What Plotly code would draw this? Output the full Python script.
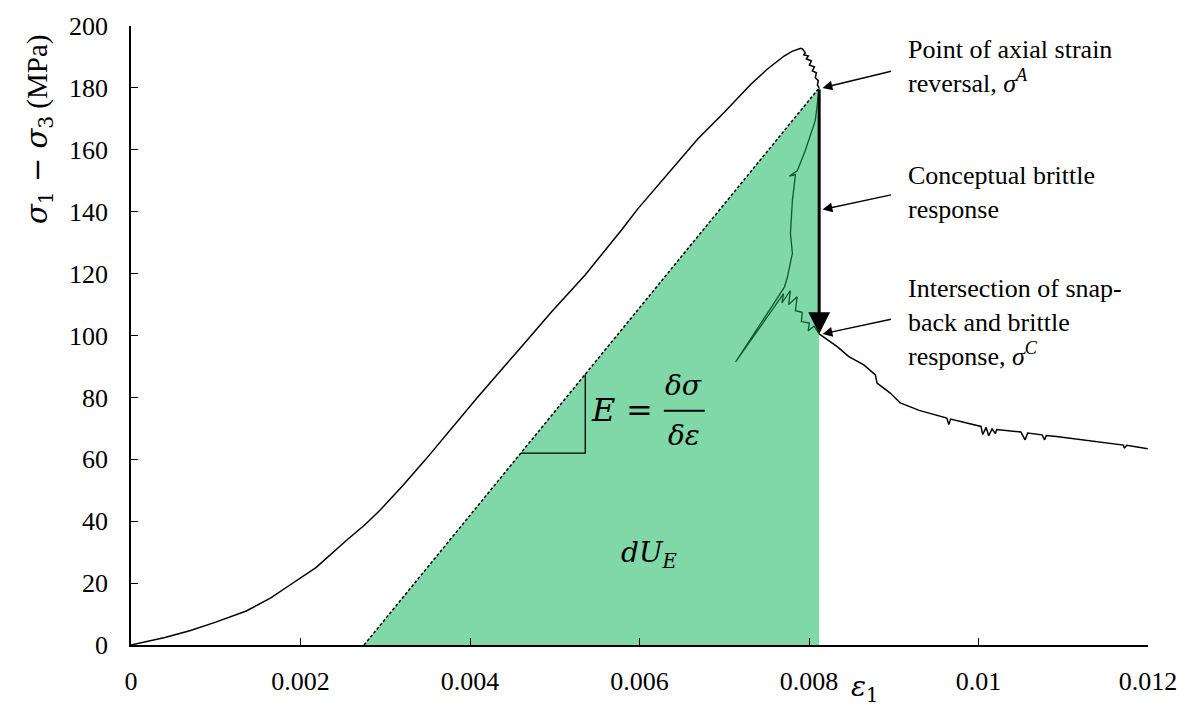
import plotly.graph_objects as go

# ---- data: deviatoric stress (MPa) vs axial strain ----
# pre-peak loading branch up to the point of axial strain reversal (A)
pre_strain = [0.0, 0.0004, 0.000693, 0.001, 0.00136, 0.00165, 0.001849, 0.002182,
              0.002554, 0.00275, 0.002926, 0.0032, 0.003475, 0.003749, 0.004082, 0.004592,
              0.004963, 0.005356, 0.005786, 0.005982, 0.006531, 0.006687, 0.007001,
              0.007314, 0.00751, 0.007706, 0.0078, 0.007902, 0.007922, 0.007957,
              0.007934, 0.007993, 0.007969, 0.008028, 0.008005, 0.008064, 0.00804,
              0.008087, 0.008075, 0.00811, 0.008099, 0.00812]
pre_stress = [0.0, 2.4, 4.6, 7.4, 11.0, 15.2, 18.9, 25.0,
              34.1, 38.6, 43.2, 51.3, 59.9, 69.0, 79.8, 95.9,
              107.7, 119.5, 134.0, 141.0, 158.7, 163.5, 172.1,
              181.2, 186.1, 190.3, 191.8, 192.8, 192.6, 191.3,
              190.7, 190.3, 189.4, 188.7, 187.4, 186.8, 185.5,
              184.9, 183.3, 182.3, 181.0, 180.0]

# snap-back branch between A and the intersection with the brittle response (C)
snap_strain = [0.00812, 0.008074, 0.007955, 0.007863, 0.00777, 0.00784, 0.007828,
               0.007804, 0.007781, 0.007804, 0.007745, 0.00771, 0.007134, 0.0077,
               0.00768, 0.00778, 0.00776, 0.00786, 0.00784, 0.00792, 0.00791,
               0.008004, 0.00799, 0.00806, 0.00812]
snap_stress = [180.0, 169.4, 159.7, 153.3, 151.5, 152.0, 149.1,
               143.6, 133.0, 126.6, 118.8, 115.6, 91.5, 113.5,
               110.5, 114.5, 110.0, 112.5, 108.0, 107.5, 104.5,
               104.0, 101.5, 103.0, 100.5]

# post-peak residual branch from C onwards
post_strain = [0.00812, 0.008137, 0.00822, 0.008333, 0.00847, 0.008647, 0.008783,
               0.008803, 0.008959, 0.009077, 0.0093, 0.009626, 0.00965, 0.00967,
               0.0099, 0.01003, 0.01005, 0.01009, 0.01012, 0.01016, 0.0102,
               0.010214, 0.0105, 0.01055, 0.01058, 0.01075, 0.01078, 0.0108,
               0.010919, 0.011506, 0.01171, 0.01172, 0.01175, 0.011997]
post_stress = [100.5, 100.2, 98.6, 96.4, 93.2, 90.5, 87.3,
               84.6, 81.4, 78.2, 75.8, 73.3, 71.2, 73.0,
               71.6, 70.6, 68.0, 70.3, 67.6, 69.8, 68.3,
               69.6, 68.8, 66.3, 68.5, 67.9, 66.3, 67.7,
               67.4, 65.3, 64.6, 63.6, 64.5, 63.4]

# elastic unloading line and energy triangle
elastic_start_strain = 0.00275
point_a = (0.00812, 180.0)
point_c_stress = 100.5
modulus = point_a[1] / (point_a[0] - elastic_start_strain)
slope_marker_strain = [0.0046, 0.00536]

x_tickvals = [0, 0.002, 0.004, 0.006, 0.008, 0.01, 0.012]
x_ticktext = ["0", "0.002", "0.004", "0.006", "0.008", "0.01", "0.012"]
y_tickvals = [0, 20, 40, 60, 80, 100, 120, 140, 160, 180, 200]

W, H = 1189, 708
L, R, T, B = 131, 37, 25, 62
PW, PH = W - L - R, H - T - B


def fx(px):
    return (px - L) / PW


def fy(py):
    return (H - B - py) / PH


SERIF = "Liberation Serif"
MATH = "DejaVu Serif"
GREEN_FILL = "#80D7A8"
DARK_GREEN = "#0D5A2E"

fig = go.Figure()

# shaded strain-energy triangle under the elastic line
fig.add_trace(go.Scatter(
    x=[elastic_start_strain, point_a[0], point_a[0], elastic_start_strain],
    y=[0, point_a[1], 0, 0],
    mode="lines", fill="toself", fillcolor=GREEN_FILL,
    line=dict(width=0), hoverinfo="skip", showlegend=False))

# elastic line (dashed)
fig.add_trace(go.Scatter(
    x=[elastic_start_strain, point_a[0]], y=[0, point_a[1]],
    mode="lines", line=dict(color="black", width=1.5, dash="3px,2px"),
    showlegend=False))

# slope marker
s0, s1 = slope_marker_strain
y0 = modulus * (s0 - elastic_start_strain)
y1 = modulus * (s1 - elastic_start_strain)
fig.add_trace(go.Scatter(
    x=[s0, s1, s1], y=[y0, y0, y1], mode="lines",
    line=dict(color="black", width=1.3), showlegend=False))

# measured curve
fig.add_trace(go.Scatter(x=pre_strain, y=pre_stress, mode="lines",
                         line=dict(color="black", width=1.5), showlegend=False))
fig.add_trace(go.Scatter(x=snap_strain, y=snap_stress, mode="lines",
                         line=dict(color=DARK_GREEN, width=1.3), showlegend=False))
fig.add_trace(go.Scatter(x=post_strain, y=post_stress, mode="lines",
                         line=dict(color="black", width=1.5), showlegend=False))

annotations = []

# conceptual brittle response: A -> C
annotations.append(dict(
    x=point_a[0], y=point_c_stress, ax=point_a[0], ay=point_a[1],
    xref="x", yref="y", axref="x", ayref="y", text="",
    showarrow=True, arrowhead=2, arrowsize=1.45, arrowwidth=3,
    arrowcolor="black"))

# callout arrows
for tip_stress, dy in [(point_a[1], -17), (140.7, -15), (point_c_stress, -15)]:
    annotations.append(dict(
        x=point_a[0] + 0.00004, y=tip_stress, xref="x", yref="y",
        ax=70, ay=dy, text="", showarrow=True, arrowhead=2,
        arrowsize=1.4, arrowwidth=1.4, arrowcolor="black"))

callouts = [
    ("Point of axial strain<br>reversal, <i>σ</i><sup><i>A</i></sup>", 66),
    ("Conceptual brittle<br>response", 192),
    ("Intersection of snap-<br>back and brittle<br>response, <i>σ</i><sup><i>C</i></sup>", 322),
]
for text, yc in callouts:
    annotations.append(dict(
        x=fx(909), y=fy(yc), xref="paper", yref="paper", text=text,
        showarrow=False, xanchor="left", yanchor="middle", align="left",
        font=dict(family=SERIF, size=26, color="black")))


def label(text, xp, yp, family, size, **kw):
    return dict(x=fx(xp), y=fy(yp), xref="paper", yref="paper", text=text,
                showarrow=False, xanchor="center", yanchor="middle",
                font=dict(family=family, size=size, color="black"), **kw)


annotations += [
    # modulus formula
    label("<i>E</i>", 605, 410, MATH, 32),
    label("=", 642, 410, MATH, 32),
    label("<i>δσ</i>", 686, 386, MATH, 28),
    label("<i>δε</i>", 686, 436, MATH, 28),
    # elastic strain energy
    label("<i>dU</i><sub><i>E</i></sub>", 651, 555, MATH, 28),
    # axis titles
    label('<span style="font-family:DejaVu Serif"><i>σ</i><sub>1</sub> − '
          '<i>σ</i><sub>3</sub></span> (MPa)', 38, 128, SERIF, 29,
          textangle=-90),
    label("<i>ε</i><sub>1</sub>", 868, 690, MATH, 28),
]

shapes = [dict(type="line", xref="paper", yref="paper",
               x0=fx(666), x1=fx(707), y0=fy(411), y1=fy(411),
               line=dict(color="black", width=2))]

fig.update_layout(
    width=W, height=H,
    margin=dict(l=L, r=R, t=T, b=B),
    paper_bgcolor="white", plot_bgcolor="white",
    annotations=annotations, shapes=shapes,
    xaxis=dict(range=[0, 0.012], tickvals=x_tickvals, ticktext=x_ticktext,
               showgrid=False, zeroline=False, showline=True, linecolor="black",
               linewidth=1.5, ticks="inside", ticklen=7, tickwidth=1.3,
               tickcolor="black", ticklabelstandoff=12,
               tickfont=dict(family=SERIF, size=26, color="black")),
    yaxis=dict(range=[0, 200], tickvals=y_tickvals,
               showgrid=False, zeroline=False, showline=True, linecolor="black",
               linewidth=1.5, ticks="inside", ticklen=7, tickwidth=1.3,
               tickcolor="black", ticklabelstandoff=16,
               tickfont=dict(family=SERIF, size=26, color="black")),
)

fig.write_html("out.html")
